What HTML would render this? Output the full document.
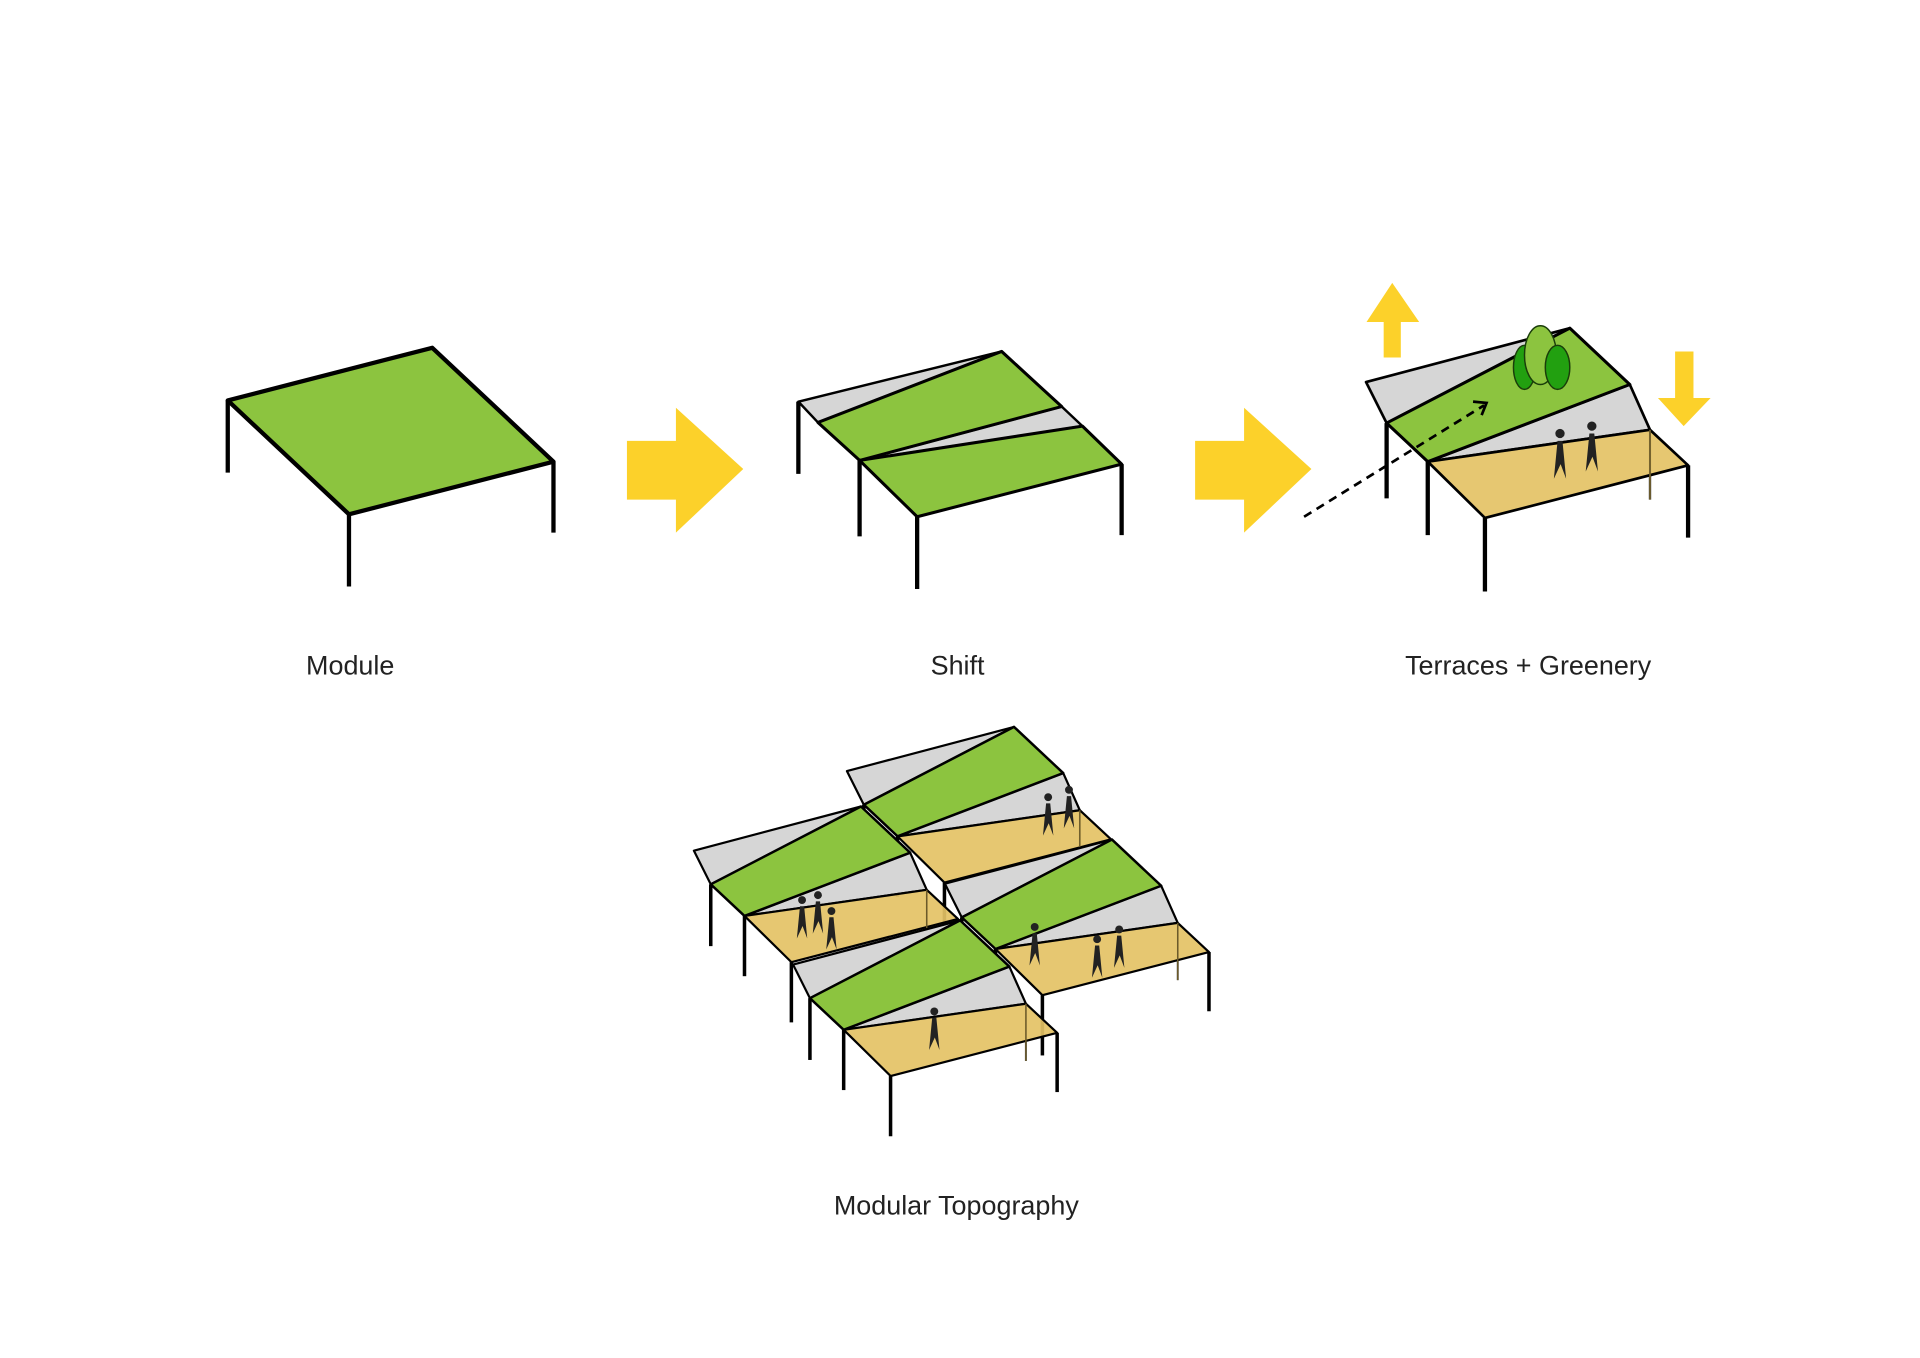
<!DOCTYPE html>
<html><head><meta charset="utf-8"><style>
html,body{margin:0;padding:0;background:#fff;}
svg{display:block;}
text{font-family:"Liberation Sans",sans-serif;font-size:22px;fill:#222;text-anchor:middle;}
</style></head><body>
<svg width="1920" height="1358" viewBox="0 0 1568 1109" preserveAspectRatio="none" xmlns="http://www.w3.org/2000/svg">
<defs>
<g id="person">
<circle cx="0" cy="0" r="3.8" fill="#222"/>
<path d="M-2,6 L2,6 L5,37 L0.5,25 L-5,37 Z" fill="#222"/>
</g>
<g id="mod" stroke="#000" stroke-linejoin="round">
<line x1="181.5" y1="-26" x2="181.5" y2="31" stroke="#555" stroke-width="2"/>
<line x1="-33.6" y1="-31.5" x2="-33.6" y2="30" stroke-width="3.5"/>
<line x1="0" y1="0" x2="0" y2="60" stroke-width="3.5"/>
<line x1="46.7" y1="46" x2="46.7" y2="106" stroke-width="3.5"/>
<line x1="212.6" y1="3" x2="212.6" y2="62" stroke-width="3.5"/>
<polygon points="-50.4,-65 116,-109 -33.6,-31.5" fill="#d6d6d6" stroke-width="2.2"/>
<polygon points="0,0 165,-63 181.5,-26" fill="#d6d6d6" stroke-width="2.2"/>
<polygon points="0,0 181.5,-26 212.6,3 46.7,46" fill="#e4c265" fill-opacity="0.92" stroke-width="2.2"/>
<line x1="181.5" y1="-26" x2="181.5" y2="31" stroke="#6b5a2a" stroke-width="1.5"/>
<polygon points="-33.6,-31.5 116,-109 165,-63 0,0" fill="#8cc43f" stroke-width="2.5"/>
</g>
</defs>

<!-- Module -->
<g stroke="#000" stroke-width="3.5" stroke-linejoin="round">
<line x1="186" y1="327" x2="186" y2="386"/>
<line x1="285" y1="420" x2="285" y2="479"/>
<line x1="452" y1="377" x2="452" y2="435"/>
<polygon points="186,327 353,284 452,377 285,420" fill="#8cc43f"/>
</g>

<!-- Shift -->
<g stroke="#000" stroke-linejoin="round">
<line x1="867" y1="332" x2="867" y2="360" stroke="#777" stroke-width="1.5"/>
<line x1="652" y1="328" x2="652" y2="387" stroke-width="3.5"/>
<line x1="702" y1="376" x2="702" y2="438" stroke-width="3.5"/>
<line x1="749" y1="422" x2="749" y2="481" stroke-width="3.5"/>
<line x1="916" y1="379" x2="916" y2="437" stroke-width="3.5"/>
<polygon points="652,328 818,287 668,345" fill="#d6d6d6" stroke-width="2"/>
<polygon points="702,376 867,332 884,348" fill="#d6d6d6" stroke-width="2"/>
<polygon points="668,345 818,287 867,332 702,376" fill="#8cc43f" stroke-width="2.5"/>
<polygon points="702,376 884,348 916,379 749,422" fill="#8cc43f" stroke-width="2.5"/>
</g>

<!-- Yellow arrows -->
<g fill="#fcd12a">
<polygon points="512,360 552,360 552,333 607,383 552,435 552,408 512,408"/>
<polygon points="976,360 1016,360 1016,333 1071,383 1016,435 1016,408 976,408"/>
<polygon points="1130,292 1144,292 1144,263 1159,263 1137,231 1116,263 1130,263"/>
<polygon points="1368,287 1383,287 1383,325 1397,325 1375,348 1354,325 1368,325"/>
</g>

<!-- Terraces -->
<use href="#mod" transform="translate(1166,377)"/>
<line x1="1065" y1="422" x2="1212" y2="331" stroke="#000" stroke-width="2.2" stroke-dasharray="7,5"/>
<polyline points="1203,328 1214,329 1210,339" fill="none" stroke="#000" stroke-width="2.2"/>
<g stroke="#1a3d0a" stroke-width="1.2">
<ellipse cx="1245" cy="300" rx="9" ry="18" fill="#22a010"/>
<ellipse cx="1258" cy="290" rx="13" ry="24" fill="#8cc43f"/>
<ellipse cx="1272" cy="300" rx="10" ry="18" fill="#22a010"/>
</g>
<use href="#person" transform="translate(1274,354)"/>
<use href="#person" transform="translate(1300,348)"/>

<!-- Modular Topography -->
<g transform="translate(733,683) scale(0.82)"><use href="#mod"/></g>
<use href="#person" transform="translate(856,651) scale(0.85)"/>
<use href="#person" transform="translate(873,645) scale(0.85)"/>
<g transform="translate(608,748) scale(0.82)"><use href="#mod"/></g>
<use href="#person" transform="translate(655,735) scale(0.85)"/>
<use href="#person" transform="translate(668,731) scale(0.85)"/>
<use href="#person" transform="translate(679,744) scale(0.85)"/>
<g transform="translate(813,775) scale(0.82)"><use href="#mod"/></g>
<use href="#person" transform="translate(845,757) scale(0.85)"/>
<use href="#person" transform="translate(896,767) scale(0.85)"/>
<use href="#person" transform="translate(914,759) scale(0.85)"/>
<g transform="translate(689,841) scale(0.82)"><use href="#mod"/></g>
<use href="#person" transform="translate(763,826) scale(0.85)"/>

<text x="286" y="551">Module</text>
<text x="782" y="551">Shift</text>
<text x="1248" y="551">Terraces + Greenery</text>
<text x="781" y="992">Modular Topography</text>
</svg>
</body></html>
